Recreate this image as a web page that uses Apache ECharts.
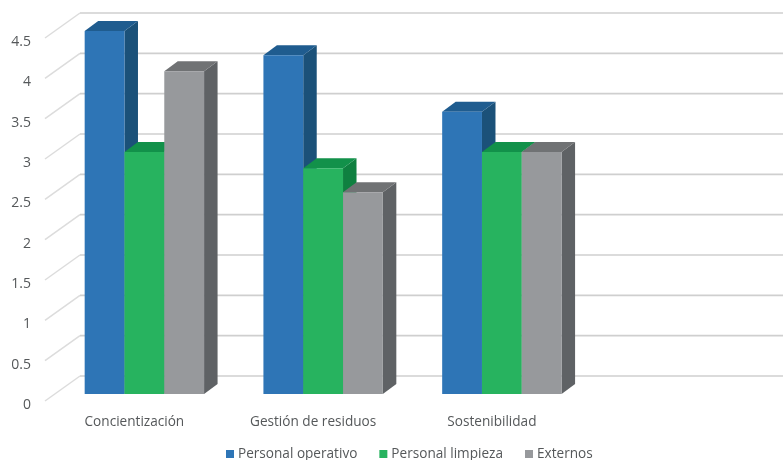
<!DOCTYPE html>
<html>
<head>
<meta charset="utf-8">
<style>html,body{margin:0;padding:0;background:#fff}#c{width:783px;height:460px}</style>
<script src="https://cdn.jsdelivr.net/npm/echarts@6/dist/echarts.min.js"></script>
</head>
<body>
<div id="c"></div>
<script>
const categories = ['Concientización', 'Gestión de residuos', 'Sostenibilidad', ''];
const personalOperativo = [4.5, 4.2, 3.5];
const personalLimpieza = [3, 2.8, 3];
const externos = [4, 2.5, 3];
const wallTicks = [0, 0.5, 1, 1.5, 2, 2.5, 3, 3.5, 4, 4.5];

const FONT = '"Open Sans", "Noto Sans", sans-serif';
const TEXT = '#55585a';
const BAR_W = 39.8;

// Box faces: front, top, side
const palette = {
  op: ['#2e75b6', '#1f5c8f', '#1b5179'],
  li: ['#27b35f', '#12914a', '#0f8040'],
  ex: ['#97999c', '#707274', '#5f6265']
};

// Draws one extruded bar, sitting partway into the depth of the chart floor.
function box(slot, faces) {
  return function (params, api) {
    const base = api.coord([api.value(0), 0]);
    const top = api.coord([api.value(0), api.value(1)]);
    const x0 = base[0] + 10 + (slot - 1.5) * BAR_W;
    const x1 = x0 + BAR_W;
    const yb = base[1] - 7;
    const yt = top[1] - 7;
    const dx = 13.5, dy = -10;
    return {
      type: 'group',
      children: [
        { type: 'polygon', shape: { points: [[x1, yb], [x1 + dx, yb + dy], [x1 + dx, yt + dy], [x1, yt]] }, style: { fill: faces[2] } },
        { type: 'polygon', shape: { points: [[x0, yt], [x0 + dx, yt + dy], [x1 + dx, yt + dy], [x1, yt]] }, style: { fill: faces[1] } },
        { type: 'rect', shape: { x: x0, y: yt, width: BAR_W, height: yb - yt }, style: { fill: faces[0] } }
      ]
    };
  };
}

function barSeries(name, values, slot, faces) {
  return {
    name,
    type: 'custom',
    clip: false,
    z: 5 + slot,
    itemStyle: { color: faces[0] },
    encode: { x: 0, y: 1 },
    data: values.map((v, i) => [i, v]),
    renderItem: box(slot, faces)
  };
}

// Side-wall diagonals and back-wall gridlines
const wallSeries = {
  type: 'custom',
  clip: false,
  silent: true,
  z: 1,
  encode: { y: 1 },
  data: wallTicks.map(v => [0, v]),
  renderItem(params, api) {
    const sys = params.coordSys;
    const y = api.coord([0, api.value(1)])[1];
    const fx = sys.x, bx = sys.x + 35, by = y - 25;
    return {
      type: 'group',
      children: [
        { type: 'line', shape: { x1: fx, y1: y, x2: bx, y2: by }, style: { stroke: '#dcdcdc', lineWidth: 1.5 } },
        { type: 'line', shape: { x1: bx, y1: by, x2: sys.x + sys.width + 35, y2: by }, style: { stroke: '#cfcfcf', lineWidth: 1.6 } }
      ]
    };
  }
};

const chart = echarts.init(document.getElementById('c'), null, { renderer: 'canvas' });
chart.setOption({
  animation: false,
  backgroundColor: '#fff',
  textStyle: { fontFamily: FONT },
  grid: { left: 45, top: 38, width: 715, height: 363, containLabel: false },
  legend: {
    data: ['Personal operativo', 'Personal limpieza', 'Externos'],
    left: 226,
    top: 447,
    icon: 'rect',
    itemWidth: 8,
    itemHeight: 8,
    itemGap: 22,
    padding: 0,
    selectedMode: false,
    textStyle: { color: TEXT, fontSize: 13.6, fontFamily: FONT, padding: [0, 0, 0, -1] }
  },
  xAxis: {
    type: 'category',
    data: categories,
    axisLine: { show: false },
    axisTick: { show: false },
    splitLine: { show: false },
    axisLabel: { color: TEXT, fontSize: 13.6, margin: 14, interval: 0, fontFamily: FONT }
  },
  yAxis: {
    type: 'value',
    min: 0,
    max: 4.5,
    interval: 0.5,
    axisLine: { show: false },
    axisTick: { show: false },
    splitLine: { show: false },
    axisLabel: { color: TEXT, fontSize: 14, margin: 14, verticalAlign: 'top', lineHeight: 8, fontFamily: FONT, formatter: v => String(v) }
  },
  series: [
    wallSeries,
    barSeries('Personal operativo', personalOperativo, 0, palette.op),
    barSeries('Personal limpieza', personalLimpieza, 1, palette.li),
    barSeries('Externos', externos, 2, palette.ex)
  ]
});
</script>
</body>
</html>
